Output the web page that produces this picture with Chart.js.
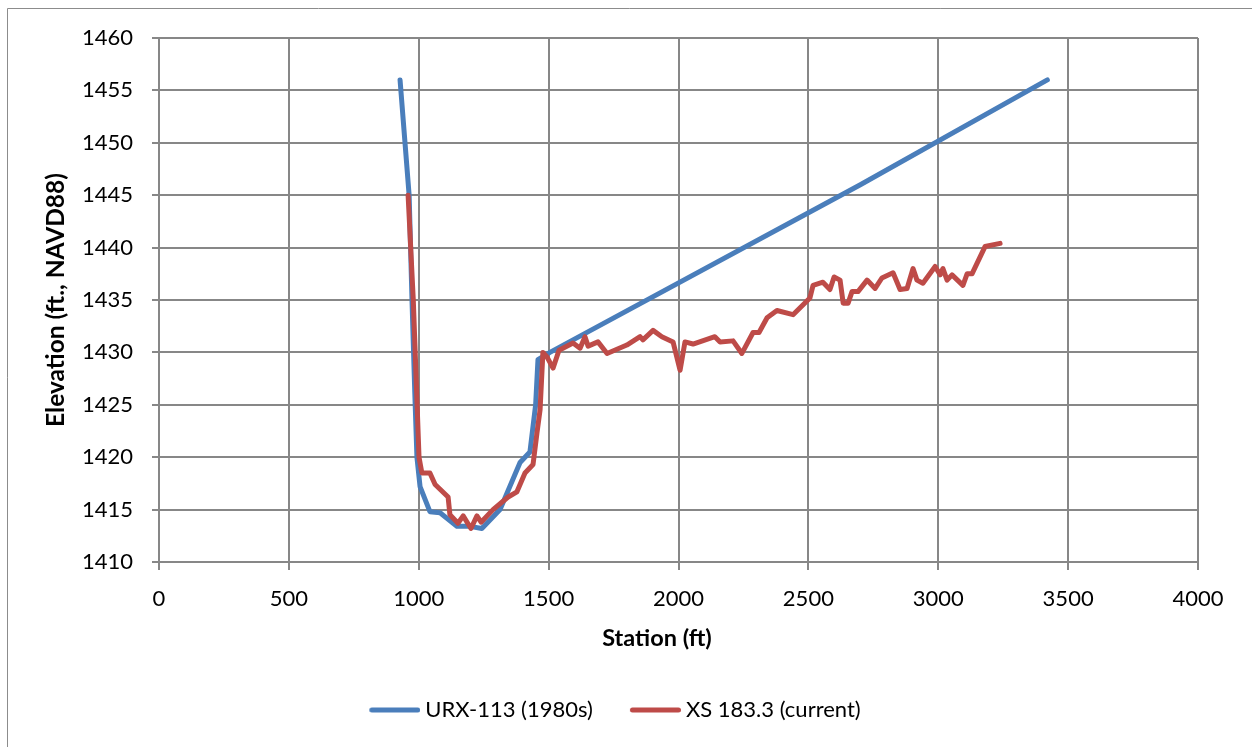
<!DOCTYPE html>
<html>
<head>
<meta charset="utf-8">
<script src="https://cdn.jsdelivr.net/npm/chart.js@4/dist/chart.umd.min.js"></script>
<style>
  html, body { margin: 0; padding: 0; background: #ffffff; overflow: hidden; }
  #wrap { position: relative; width: 1252px; height: 747px; }
</style>
</head>
<body>
<div id="wrap"><canvas id="c" width="1252" height="747"></canvas></div>
<script>
// Cross-section survey: URX-113 (1980s)
const oldStation   = [928, 963, 974, 985, 993, 1005, 1043, 1082, 1147, 1197, 1243, 1313, 1390, 1428, 1450, 1459, 1505, 2700, 3420];
const oldElevation = [1456, 1445, 1435, 1426, 1420, 1417.2, 1414.8, 1414.7, 1413.4, 1413.4, 1413.2, 1415.0, 1419.5, 1420.5, 1425, 1429.3, 1430, 1446, 1456];

// Cross-section survey: XS 183.3 (current)
const newStation   = [959, 979, 1001, 1012, 1043, 1063, 1113, 1120, 1151, 1171, 1201, 1224, 1240, 1286, 1344, 1378, 1409, 1440, 1455, 1467, 1478, 1493, 1517, 1540, 1594, 1621, 1640, 1652, 1690, 1725, 1801, 1852, 1863, 1902, 1936, 1979, 2006, 2025, 2056, 2140, 2160, 2210, 2244, 2287, 2310, 2341, 2379, 2441, 2506, 2518, 2556, 2583, 2599, 2622, 2634, 2653, 2668, 2691, 2726, 2757, 2783, 2826, 2853, 2880, 2903, 2918, 2941, 2988, 3007, 3018, 3034, 3053, 3095, 3111, 3130, 3180, 3238];
const newElevation = [1445, 1435, 1420, 1418.5, 1418.5, 1417.4, 1416.2, 1414.5, 1413.7, 1414.4, 1413.2, 1414.4, 1413.8, 1415.0, 1416.2, 1416.7, 1418.5, 1419.3, 1422.3, 1424.5, 1430.0, 1429.6, 1428.5, 1430.2, 1430.9, 1430.4, 1431.5, 1430.6, 1431.0, 1429.9, 1430.7, 1431.5, 1431.2, 1432.1, 1431.5, 1431.0, 1428.3, 1431.0, 1430.8, 1431.5, 1431.0, 1431.1, 1429.9, 1431.9, 1431.9, 1433.3, 1434.0, 1433.6, 1435.2, 1436.4, 1436.7, 1436.0, 1437.2, 1436.9, 1434.7, 1434.7, 1435.8, 1435.8, 1436.9, 1436.1, 1437.1, 1437.6, 1436.0, 1436.1, 1438.0, 1436.9, 1436.6, 1438.2, 1437.4, 1438.0, 1436.9, 1437.4, 1436.4, 1437.5, 1437.5, 1440.1, 1440.4];

const seriesNames = ['URX-113 (1980s)', 'XS 183.3 (current)'];
const stationTicks = [0, 500, 1000, 1500, 2000, 2500, 3000, 3500, 4000];
const elevationTicks = [1410, 1415, 1420, 1425, 1430, 1435, 1440, 1445, 1450, 1455, 1460];
const xAxisTitle = 'Station (ft)';
const yAxisTitle = 'Elevation (ft., NAVD88)';

const toPoints = (xs, ys) => xs.map((x, i) => ({ x: x, y: ys[i] }));

const gridGray = '#878787';
const tickFont = { family: 'Lato', size: 22 };

// Short thick line used as the legend swatch
function legendSwatch(color) {
  const c = document.createElement('canvas');
  c.width = 57;
  c.height = 6;
  const g = c.getContext('2d');
  g.strokeStyle = color;
  g.lineWidth = 5;
  g.lineCap = 'round';
  g.beginPath();
  g.moveTo(8.5, 3);
  g.lineTo(54.5, 3);
  g.stroke();
  return c;
}

// Thin outer frame along the top and left edges
const framePlugin = {
  id: 'frame',
  beforeDraw(chart) {
    const ctx = chart.ctx;
    ctx.save();
    ctx.fillStyle = '#ffffff';
    ctx.fillRect(0, 0, chart.width, chart.height);
    ctx.strokeStyle = '#8c8c8c';
    ctx.lineWidth = 1;
    ctx.beginPath();
    ctx.moveTo(7.5, chart.height);
    ctx.lineTo(7.5, 8.5);
    ctx.lineTo(chart.width, 8.5);
    ctx.stroke();
    ctx.restore();
  }
};

// Horizontal axis title, centred under the whole axis block
const xTitlePlugin = {
  id: 'xTitle',
  afterDraw(chart) {
    const s = chart.scales.x;
    const ctx = chart.ctx;
    ctx.save();
    ctx.font = 'bold 23.5px Lato';
    ctx.fillStyle = '#000000';
    ctx.textAlign = 'center';
    ctx.textBaseline = 'middle';
    ctx.fillText(xAxisTitle, (s.left + s.right) / 2 - 21.5, s.top + 76);
    ctx.restore();
  }
};

new Chart(document.getElementById('c'), {
  type: 'line',
  data: {
    datasets: [
      {
        label: seriesNames[0],
        data: toPoints(oldStation, oldElevation),
        borderColor: '#4A7EBB',
        backgroundColor: '#4A7EBB',
        borderWidth: 5,
        pointRadius: 0,
        tension: 0,
        borderJoinStyle: 'round',
        borderCapStyle: 'round',
        order: 1
      },
      {
        label: seriesNames[1],
        data: toPoints(newStation, newElevation),
        borderColor: '#BE4B48',
        backgroundColor: '#BE4B48',
        borderWidth: 5,
        pointRadius: 0,
        tension: 0,
        borderJoinStyle: 'round',
        borderCapStyle: 'round',
        order: 0
      }
    ]
  },
  options: {
    responsive: false,
    animation: false,
    devicePixelRatio: 1,
    layout: { padding: { left: 32, right: 54, top: 38, bottom: 16 } },
    plugins: {
      legend: {
        position: 'bottom',
        labels: {
          font: tickFont,
          color: '#000000',
          usePointStyle: true,
          pointStyleWidth: 45,
          boxHeight: 22,
          padding: 37,
          sort: (a, b) => a.datasetIndex - b.datasetIndex,
          generateLabels(chart) {
            return Chart.defaults.plugins.legend.labels.generateLabels(chart)
              .map(item => Object.assign(item, { pointStyle: legendSwatch(item.strokeStyle) }));
          }
        }
      },
      tooltip: { enabled: false }
    },
    scales: {
      x: {
        type: 'linear',
        min: 0,
        max: 4000,
        afterBuildTicks(scale) { scale.ticks = stationTicks.map(v => ({ value: v })); },
        afterFit(scale) { scale.height = 100; },
        grid: { color: gridGray, lineWidth: 2, tickLength: 8 },
        border: { color: gridGray, width: 2 },
        ticks: { font: tickFont, color: '#000000', padding: 16, maxRotation: 0, callback: v => String(v) },
        title: { display: false }
      },
      y: {
        type: 'linear',
        min: 1410,
        max: 1460,
        afterBuildTicks(scale) { scale.ticks = elevationTicks.map(v => ({ value: v })); },
        afterFit(scale) { scale.width = 127; },
        grid: { color: gridGray, lineWidth: 2, tickLength: 7 },
        border: { color: gridGray, width: 2 },
        ticks: { font: tickFont, color: '#000000', padding: 19, callback: v => String(v) },
        title: {
          display: true,
          text: yAxisTitle,
          font: { family: 'Lato', size: 24.5, weight: 'bold' },
          color: '#000000',
          padding: { top: 9, bottom: 0 }
        }
      }
    }
  },
  plugins: [framePlugin, xTitlePlugin]
});
</script>
</body>
</html>
